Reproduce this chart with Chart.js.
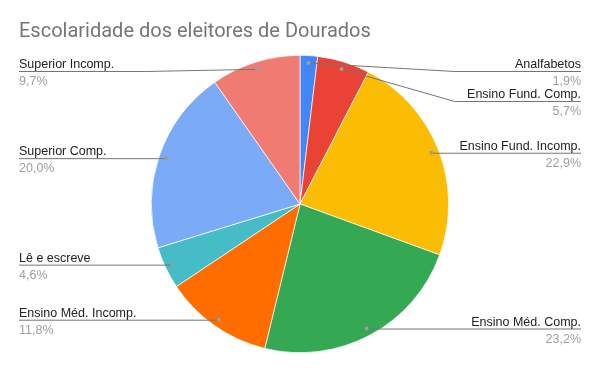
<!DOCTYPE html>
<html>
<head>
<meta charset="utf-8">
<script src="https://cdn.jsdelivr.net/npm/chart.js@4/dist/chart.umd.min.js"></script>
<style>
  html, body { margin: 0; padding: 0; background: #fff; }
  #wrap { width: 600px; height: 371px; }
</style>
</head>
<body>
<div id="wrap"><canvas id="escolaridade"></canvas></div>
<script>
// data
const chartTitle = 'Escolaridade dos eleitores de Dourados';
const categories = [
    'Analfabetos',
    'Ensino Fund. Comp.',
    'Ensino Fund. Incomp.',
    'Ensino Méd. Comp.',
    'Ensino Méd. Incomp.',
    'Lê e escreve',
    'Superior Comp.',
    'Superior Incomp.'
];
const shares = [1.9, 5.7, 22.9, 23.2, 11.8, 4.6, 20.0, 9.7];
const sliceColors = ['#4285f4', '#ea4335', '#fbbc04', '#34a853', '#ff6d01', '#46bdc6', '#7baaf7', '#f07b72'];

const TITLE_FONT = '20px Roboto, Arial, sans-serif';
const LABEL_FONT = '12.5px Arial, "Liberation Sans", sans-serif';

function pctText(v) {
    const total = shares.reduce((a, b) => a + b, 0);
    return (v / total * 100).toFixed(1).replace('.', ',') + '%';
}

// title + leader-line labels, drawn after the pie
const calloutPlugin = {
    id: 'callouts',
    afterDraw(chart) {
        const ctx = chart.ctx;
        ctx.save();
        ctx.font = TITLE_FONT;
        ctx.fillStyle = '#757575';
        ctx.textBaseline = 'alphabetic';
        ctx.textAlign = 'left';
        ctx.fillText(chartTitle, 19, 37);

        const arcs = chart.getDatasetMeta(0).data;
        const items = arcs.map((arc, i) => {
            const p = arc.getProps(['x', 'y', 'startAngle', 'endAngle', 'outerRadius'], true);
            const mid = (p.startAngle + p.endAngle) / 2;
            const r = p.outerRadius * 0.95;
            return {
                i: i,
                cx: p.x,
                R: p.outerRadius,
                dx: p.x + Math.cos(mid) * r,
                dy: p.y + Math.sin(mid) * r,
                right: Math.cos(mid) >= 0
            };
        });

        // push labels down so they don't overlap
        ['right', 'left'].forEach(side => {
            const group = items.filter(it => (side === 'right') === it.right).sort((a, b) => a.dy - b.dy);
            let prev = -Infinity;
            group.forEach(it => {
                let ly = Math.max(it.dy, 71, prev + 30);
                prev = ly;
                it.ly = ly;
            });
        });

        items.forEach(it => {
            const right = it.right;
            const endX = right ? 581 : 19;
            const elbowX = right ? it.cx + it.R + 6 : it.cx - it.R - 6;
            ctx.strokeStyle = '#757575';
            ctx.lineWidth = 1;
            ctx.beginPath();
            ctx.moveTo(it.dx, it.dy);
            if (Math.abs(it.ly - it.dy) > 1) {
                ctx.lineTo(elbowX, it.ly + 0.5);
            } else {
                ctx.lineTo(it.dx, it.ly + 0.5);
            }
            ctx.lineTo(endX, it.ly + 0.5);
            ctx.stroke();

            ctx.fillStyle = '#9e9e9e';
            ctx.beginPath();
            ctx.arc(it.dx, it.dy, 2, 0, Math.PI * 2);
            ctx.fill();

            ctx.textAlign = right ? 'right' : 'left';
            ctx.font = LABEL_FONT;
            ctx.fillStyle = '#222222';
            ctx.fillText(categories[it.i], endX, it.ly - 3);
            ctx.fillStyle = '#9e9e9e';
            ctx.fillText(pctText(shares[it.i]), endX, it.ly + 14);
        });
        ctx.restore();
    }
};

const pie = document.getElementById('escolaridade').getContext('2d');
let escolaridadeChart = new Chart(pie, {
    type: 'pie',
    data: {
        labels: categories,
        datasets: [{
            data: shares,
            backgroundColor: sliceColors,
            borderColor: '#ffffff',
            borderWidth: 0.7
        }]
    },
    options: {
        responsive: true,
        maintainAspectRatio: false,
        animation: false,
        layout: { padding: { top: 55, bottom: 18, left: 0, right: 0 } },
        plugins: {
            legend: { display: false },
            tooltip: { enabled: false },
            title: { display: false }
        }
    },
    plugins: [calloutPlugin]
});
</script>
</body>
</html>
